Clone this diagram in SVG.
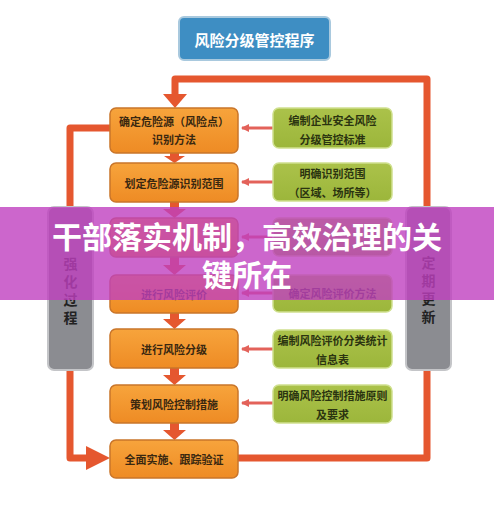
<svg xmlns="http://www.w3.org/2000/svg" width="494" height="513" viewBox="0 0 494 513">
<defs>
<linearGradient id="og" x1="0" y1="0" x2="0" y2="1"><stop offset="0" stop-color="#f7a43c"/><stop offset="1" stop-color="#ee8b24"/></linearGradient>
<linearGradient id="gg" x1="0" y1="0" x2="0" y2="1"><stop offset="0" stop-color="#abc24a"/><stop offset="1" stop-color="#9cb63b"/></linearGradient>
<marker id="ah" markerWidth="8" markerHeight="8" refX="7" refY="4" orient="auto" markerUnits="userSpaceOnUse"><path d="M0,0 L8,4 L0,8 Z" fill="#e3625a"/></marker>
</defs>
<style>
.ob{fill:url(#og);stroke:#c9752a;stroke-width:1.5}
.gb{fill:url(#gg);stroke:#cfe08e;stroke-width:1.5}
.bar{fill:#8b8c91;stroke:#c4c5c8;stroke-width:2}
.t{font-family:"Noto Sans CJK SC","Noto Sans",sans-serif;font-weight:bold;font-size:11px;text-anchor:middle;dominant-baseline:central}
.to{fill:#3a2810}
.tg{fill:#2b3410}
.tb{font-family:"Noto Sans CJK SC","Noto Sans",sans-serif;font-weight:bold;font-size:14px;fill:#222;text-anchor:middle;dominant-baseline:central}
.loop{fill:none;stroke:#e5572f;stroke-width:7;stroke-linejoin:round}
.va{fill:#e5572f}
.ga{stroke:#e3625a;stroke-width:3;fill:none}
.ban{font-family:"Noto Sans CJK SC","Noto Sans",sans-serif;font-weight:bold;font-size:30px;fill:#ffffff;text-anchor:middle}
</style>
<rect width="494" height="513" fill="#ffffff"/>

<g id="connectors">
<path class="loop" d="M238,458 H427 V79 H175 V95"/>
<polygon class="va" points="163,94 187,94 175,108"/>
<path class="loop" d="M110,128 H70 V458 H88"/>
<polygon class="va" points="86,446 86,470 110,458"/>
<path class="va" d="M170,153 H179 V156 H185 L174.5,163 L164,156 H170 Z"/>
<path class="va" d="M170,202 H179 V209 H186 L174.5,218 L163,209 H170 Z"/>
<path class="va" d="M170,257 H179 V265 H186 L174.5,275 L163,265 H170 Z"/>
<path class="va" d="M170,313 H179 V319 H186 L174.5,329 L163,319 H170 Z"/>
<path class="va" d="M170,368 H179 V375 H186 L174.5,385 L163,375 H170 Z"/>
<path class="va" d="M170,423 H179 V430 H186 L174.5,440 L163,430 H170 Z"/>
<line class="ga" x1="273" y1="128" x2="242" y2="128" marker-end="url(#ah)"/>
<line class="ga" x1="273" y1="182" x2="242" y2="182" marker-end="url(#ah)"/>
<line class="ga" x1="273" y1="237" x2="242" y2="237" marker-end="url(#ah)"/>
<line class="ga" x1="273" y1="293" x2="242" y2="293" marker-end="url(#ah)"/>
<line class="ga" x1="273" y1="349" x2="242" y2="349" marker-end="url(#ah)"/>
<line class="ga" x1="273" y1="403" x2="242" y2="403" marker-end="url(#ah)"/>
</g>

<g id="title">
<rect x="179" y="17" width="151" height="43" rx="5" fill="#3e8ec3" stroke="#a9c9de" stroke-width="2"/>
<text x="254.5" y="39" class="t" style="font-size:15px;fill:#ffffff">风险分级管控程序</text>
</g>

<g id="bar-left">
<rect class="bar" x="48" y="207" width="45" height="163" rx="6"/>
<text class="tb" x="70.5" y="263">强</text>
<text class="tb" x="70.5" y="281">化</text>
<text class="tb" x="70.5" y="299">过</text>
<text class="tb" x="70.5" y="317">程</text>
</g>
<g id="bar-right">
<rect class="bar" x="406" y="207" width="45" height="163" rx="6"/>
<text class="tb" x="428.5" y="262">定</text>
<text class="tb" x="428.5" y="280">期</text>
<text class="tb" x="428.5" y="298">更</text>
<text class="tb" x="428.5" y="316">新</text>
</g>

<g id="o1"><rect class="ob" x="110" y="108" width="128" height="45" rx="6"/>
<text class="t to" x="174" y="121">确定危险源（风险点）</text><text class="t to" x="174" y="139">识别方法</text></g>
<g id="o2"><rect class="ob" x="110" y="163" width="128" height="39" rx="6"/>
<text class="t to" x="174" y="183">划定危险源识别范围</text></g>
<g id="o3"><rect class="ob" x="110" y="218" width="128" height="39" rx="6"/></g>
<g id="o4"><rect class="ob" x="110" y="275" width="128" height="38" rx="6"/>
<text class="t to" x="174" y="294">进行风险评价</text></g>
<g id="o5"><rect class="ob" x="110" y="329" width="128" height="39" rx="6"/>
<text class="t to" x="174" y="349">进行风险分级</text></g>
<g id="o6"><rect class="ob" x="110" y="385" width="128" height="38" rx="6"/>
<text class="t to" x="174" y="404">策划风险控制措施</text></g>
<g id="o7"><rect class="ob" x="110" y="440" width="128" height="38" rx="6"/>
<text class="t to" x="174" y="459">全面实施、跟踪验证</text></g>

<g id="g1"><rect class="gb" x="273" y="108" width="119" height="40" rx="6"/>
<text class="t tg" x="332.5" y="120">编制企业安全风险</text><text class="t tg" x="332.5" y="139">分级管控标准</text></g>
<g id="g2"><rect class="gb" x="273" y="163" width="119" height="38" rx="6"/>
<text class="t tg" x="332.5" y="173">明确识别范围</text><text class="t tg" x="332.5" y="192">（区域、场所等）</text></g>
<g id="g3"><rect class="gb" x="273" y="218" width="119" height="38" rx="6"/></g>
<g id="g4"><rect class="gb" x="273" y="275" width="119" height="37" rx="6"/>
<text class="t tg" x="332.5" y="293">确定风险评价方法</text></g>
<g id="g5"><rect class="gb" x="273" y="330" width="119" height="38" rx="6"/>
<text class="t tg" x="332.5" y="340">编制风险评价分类统计</text><text class="t tg" x="332.5" y="359">信息表</text></g>
<g id="g6"><rect class="gb" x="273" y="385" width="119" height="38" rx="6"/>
<text class="t tg" x="332.5" y="395">明确风险控制措施原则</text><text class="t tg" x="332.5" y="414">及要求</text></g>

<g id="banner">
<rect x="0" y="207" width="494" height="93" fill="#bf40bf" opacity="0.8"/>
<text class="ban" x="247" y="248">干部落实机制，高效治理的关</text>
<text class="ban" x="247" y="286">键所在</text>
</g>
</svg>
